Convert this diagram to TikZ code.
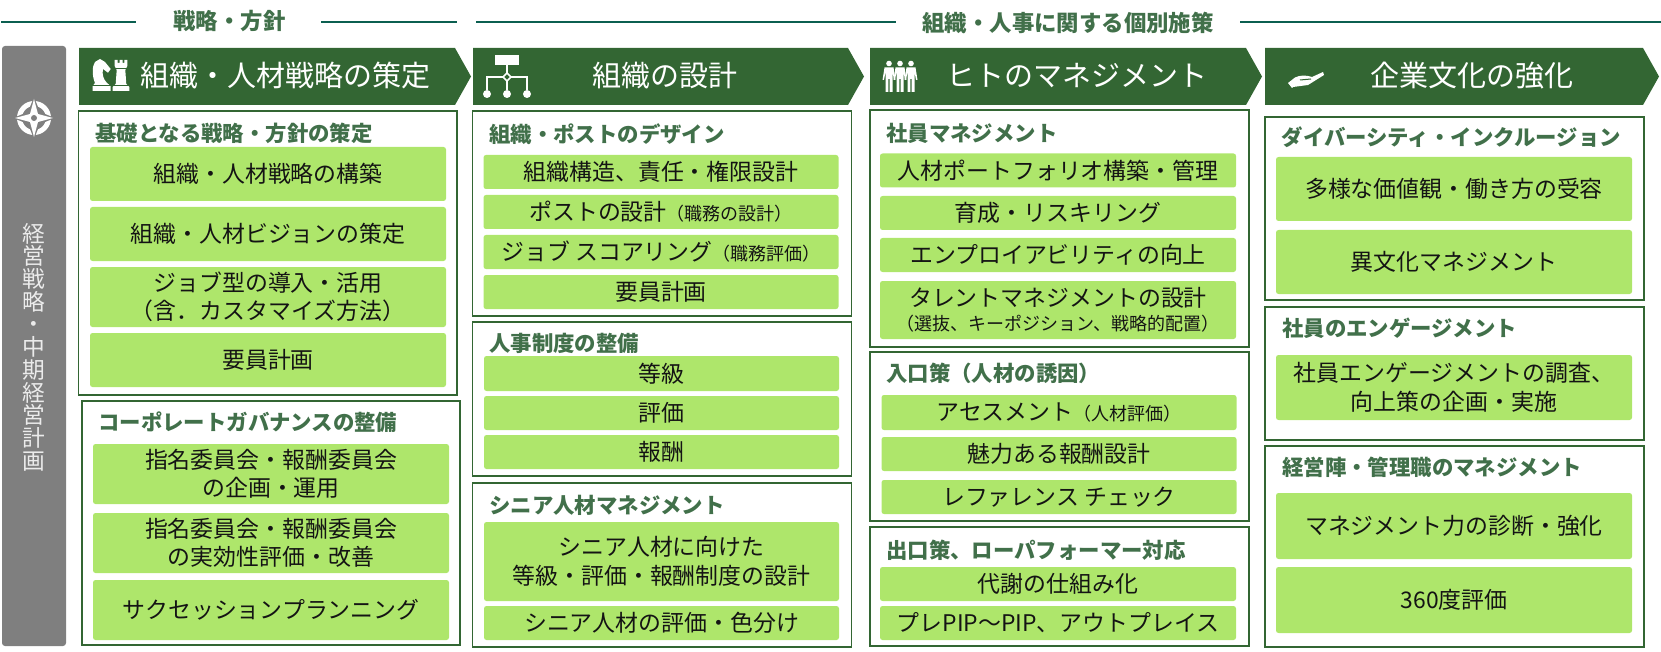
\documentclass[tikz,border=0pt]{standalone}
\usepackage{fontspec}
\setmainfont{Noto Sans CJK JP}
\usepackage{tikz}
\definecolor{bannergreen}{HTML}{336633}
\definecolor{leafgreen}{HTML}{AEE66B}
\definecolor{headgreen}{HTML}{41704A}
\definecolor{rulegreen}{HTML}{0B5F50}
\definecolor{sidegray}{HTML}{7F7F7F}
\newcommand{\smalltxt}[1]{{\fontsize{18}{22}\selectfont #1}}
\begin{document}
\begin{tikzpicture}[x=1pt,y=-1pt,
    toprule/.style={draw=rulegreen,line width=1.6pt},
    toptext/.style={text=headgreen,font=\fontsize{22.4}{27}\selectfont\bfseries,inner sep=0pt},
    banner/.style={text=white,font=\fontsize{29}{34}\selectfont,inner sep=0pt},
    panel/.style 2 args={draw=bannergreen,line width=1.8pt,inner sep=0pt,minimum width=#1pt,minimum height=#2pt},
    headtext/.style={anchor=west,text=headgreen,font=\fontsize{21.4}{26}\selectfont\bfseries,inner sep=0pt},
    leaf/.style 2 args={fill=leafgreen,rounded corners=2.5pt,inner sep=0pt,align=center,text=black!92,
        font=\fontsize{22.9}{28.5}\selectfont,minimum width=#1pt,minimum height=#2pt},
    iconline/.style={draw=white,line width=1.5pt}]
    \useasboundingbox (0,0) rectangle (1661,652);

    % top captions and rules
    \node (strategycap) [toptext] at (229.5,21) {戦略・方針};
    \node (measurecap)  [toptext] at (1068,23) {組織・人事に関する個別施策};
    \coordinate (ra) at (1,22);
    \coordinate (rb) at (136,22);
    \coordinate (rc) at (321,22);
    \coordinate (rd) at (457,22);
    \coordinate (re) at (476,22);
    \coordinate (rf) at (896,22);
    \coordinate (rg) at (1240,22);
    \coordinate (rh) at (1661,22);
    \draw[toprule] (ra) -- (rb);
    \draw[toprule] (rc) -- (rd);
    \draw[toprule] (re) -- (rf);
    \draw[toprule] (rg) -- (rh);

    % left side bar
    \node (sidebar) [fill=sidegray,rounded corners=3pt,minimum width=64pt,minimum height=600pt,inner sep=0pt] at (34,346) {};
    \node (sidetext) [text=white!92!black,align=center,inner sep=0pt,font=\fontsize{22.7}{22.7}\selectfont] at (34,347)
        {経\\営\\戦\\略\\・\\中\\期\\経\\営\\計\\画};
    \draw[white,line width=5pt] (34,118) circle (14.5);
    \fill[sidegray] (34,97) -- (40,112) -- (55,118) -- (40,124) -- (34,139) -- (28,124) -- (13,118) -- (28,112) -- cycle;
    \fill[white] (34,99) -- (38,114) -- (53,118) -- (38,122) -- (34,137) -- (30,122) -- (15,118) -- (30,114) -- cycle;
    \fill[sidegray] (34,118) circle (3);

    % banners
    \foreach \xa/\xb/\xc in {79/455/471, 473/848/864, 870/1246/1262, 1265/1643/1659}
        \fill[bannergreen] (\xa,48) -- (\xb,48) -- (\xc,76.5) -- (\xb,105) -- (\xa,105) -- cycle;
    \node (strategyban) [banner] at (285,76) {組織・人材戦略の策定};
    \node (designban)   [banner] at (665,76) {組織の設計};
    \node (peopleban)   [banner] at (1077,76) {ヒトのマネジメント};
    \node (cultureban)  [banner] at (1471.5,76) {企業文化の強化};

    % knight and rook
    \fill[white] (92.7,91) -- (110.7,91) -- (110.7,86) -- (107,83) .. controls (103,79) and (102,74) .. (103,69)
        -- (108,72.7) -- (110.7,69) -- (105,62) -- (100,59) -- (95,62) .. controls (92,66) and (92,76) .. (95,83) -- (92.7,86) -- cycle;
    \fill[white] (112.7,91) -- (129.3,91) -- (129.3,87) -- (126.3,84) -- (125.3,70) -- (127.3,66) -- (127.3,60) -- (124.3,60) -- (124.3,63)
        -- (122.5,63) -- (122.5,60) -- (119.5,60) -- (119.5,63) -- (117.7,63) -- (117.7,60) -- (114.7,60) -- (114.7,66) -- (116.7,70) -- (115.7,84) -- (112.7,87) -- cycle;
    \draw[bannergreen,line width=.8pt] (115,68) -- (127,68);
    \draw[bannergreen,line width=.8pt] (92,85.5) -- (130,85.5);

    % organisation chart
    \fill[white] (495,55) rectangle (519,65);
    \draw[iconline] (507,65) -- (507,73);
    \draw[iconline] (507,81) -- (507,90);
    \draw[iconline] (487,90) -- (487,77) -- (503,77);
    \draw[iconline] (527,90) -- (527,77) -- (511,77);
    \draw[iconline] (507,73) -- (511,77) -- (507,81) -- (503,77) -- cycle;
    \foreach \xa in {487,507,527}
        \fill[white] (\xa,94) circle (4);

    % three people
    \foreach \xa in {889,900,911} {
        \fill[white] (\xa,63.5) circle (2.8);
        \fill[white] ({\xa-4.5},67.5) -- ({\xa+4.5},67.5) -- ({\xa+6.5},80) -- ({\xa+5},80) -- ({\xa+3.5},72) -- ({\xa+3.5},92) -- ({\xa+0.7},92)
            -- ({\xa+0.7},79) -- ({\xa-0.7},79) -- ({\xa-0.7},92) -- ({\xa-3.5},92) -- ({\xa-3.5},72) -- ({\xa-5},80) -- ({\xa-6.5},80) -- cycle;
    }

    % hand
    \fill[white] (1288,83) -- (1295,77.5) .. controls (1300,75) and (1306,75) .. (1312,77) -- (1323,72) -- (1324,75) -- (1308,85) -- (1293,87) -- (1292,88) -- cycle;
    \draw[bannergreen,line width=1pt] (1300,80) -- (1311,79);

    % first column
    \node (basepanel) [panel={378.5}{284.5}] at (267.7,253) {};
    \node (basehead)  [headtext] at (95,133) {基礎となる戦略・方針の策定};
    \node (basea) [leaf={356}{54}] at (268,174) {組織・人材戦略の構築};
    \node (baseb) [leaf={356}{54}] at (268,234) {組織・人材ビジョンの策定};
    \node (basec) [leaf={356}{60}] at (268,297) {ジョブ型の導入・活用\\（含．カスタマイズ方法）};
    \node (based) [leaf={356}{54}] at (268,360) {要員計画};

    \node (govpanel) [panel={378.5}{244}] at (271,523) {};
    \node (govhead)  [headtext] at (98,422) {コーポレートガバナンスの整備};
    \node (gova) [leaf={356}{60}] at (271,474) {指名委員会・報酬委員会\\の企画・運用};
    \node (govb) [leaf={356}{60}] at (271,543) {指名委員会・報酬委員会\\の実効性評価・改善};
    \node (govc) [leaf={356}{60}] at (271,610) {サクセッションプランニング};

    % second column
    \node (postpanel) [panel={379}{205}] at (662,213.5) {};
    \node (posthead)  [headtext] at (489,134) {組織・ポストのデザイン};
    \node (posta) [leaf={355}{34}] at (661,172) {組織構造、責任・権限設計};
    \node (postb) [leaf={355}{34}] at (661,212) {ポストの設計\smalltxt{（職務の設計）}};
    \node (postc) [leaf={355}{34}] at (661,252) {ジョブ スコアリング\smalltxt{（職務評価）}};
    \node (postd) [leaf={355}{34}] at (661,292) {要員計画};

    \node (hrpanel) [panel={379}{154}] at (662,399) {};
    \node (hrhead)  [headtext] at (489,343) {人事制度の整備};
    \node (hra) [leaf={355}{35}] at (661.5,373.5) {等級};
    \node (hrb) [leaf={355}{34}] at (661.5,413) {評価};
    \node (hrc) [leaf={355}{34}] at (661.5,452) {報酬};

    \node (seniorpanel) [panel={379}{164}] at (662,565) {};
    \node (seniorhead)  [headtext] at (489,505) {シニア人材マネジメント};
    \node (seniora) [leaf={355}{79}] at (661.5,561.5) {シニア人材に向けた\\等級・評価・報酬制度の設計};
    \node (seniorb) [leaf={355}{34}] at (661.5,623) {シニア人材の評価・色分け};

    % third column
    \node (staffpanel) [panel={379}{237}] at (1059.5,228.5) {};
    \node (staffhead)  [headtext] at (886,133) {社員マネジメント};
    \node (staffa) [leaf={356}{34}] at (1058,170.5) {人材ポートフォリオ構築・管理};
    \node (staffb) [leaf={356}{34}] at (1058,213) {育成・リスキリング};
    \node (staffc) [leaf={356}{34}] at (1058,255) {エンプロイアビリティの向上};
    \node (staffd) [leaf={356}{58}] at (1058,310) {タレントマネジメントの設計\\[-5pt]\smalltxt{（選抜、キーポジション、戦略的配置）}};

    \node (entrypanel) [panel={379}{169}] at (1059.5,436.5) {};
    \node (entryhead)  [headtext] at (886,373) {入口策（人材の誘因）};
    \node (entrya) [leaf={355}{35}] at (1059,412.5) {アセスメント\smalltxt{（人材評価）}};
    \node (entryb) [leaf={355}{34}] at (1059,454) {魅力ある報酬設計};
    \node (entryc) [leaf={355}{34}] at (1059,497) {レファレンス チェック};

    \node (exitpanel) [panel={379}{119}] at (1059.5,586.5) {};
    \node (exithead)  [headtext] at (886,550) {出口策、ローパフォーマー対応};
    \node (exita) [leaf={356}{34}] at (1058,584) {代謝の仕組み化};
    \node (exitb) [leaf={356}{34}] at (1058,623) {プレPIP～PIP、アウトプレイス};

    % fourth column
    \node (divpanel) [panel={379}{183}] at (1454.5,208.5) {};
    \node (divhead)  [headtext] at (1281.5,137) {ダイバーシティ・インクルージョン};
    \node (diva) [leaf={356}{64}] at (1454,189) {多様な価値観・働き方の受容};
    \node (divb) [leaf={356}{64}] at (1454,262) {異文化マネジメント};

    \node (engpanel) [panel={379}{133}] at (1454.5,373.5) {};
    \node (enghead)  [headtext] at (1282,328) {社員のエンゲージメント};
    \node (enga) [leaf={356}{65}] at (1454,387.5) {社員エンゲージメントの調査、\\向上策の企画・実施};

    \node (mgmtpanel) [panel={379}{201}] at (1454.5,546.5) {};
    \node (mgmthead)  [headtext] at (1282,467) {経営陣・管理職のマネジメント};
    \node (mgmta) [leaf={356}{66}] at (1454,526) {マネジメント力の診断・強化};
    \node (mgmtb) [leaf={356}{66}] at (1454,600) {360度評価};
\end{tikzpicture}
\end{document}
